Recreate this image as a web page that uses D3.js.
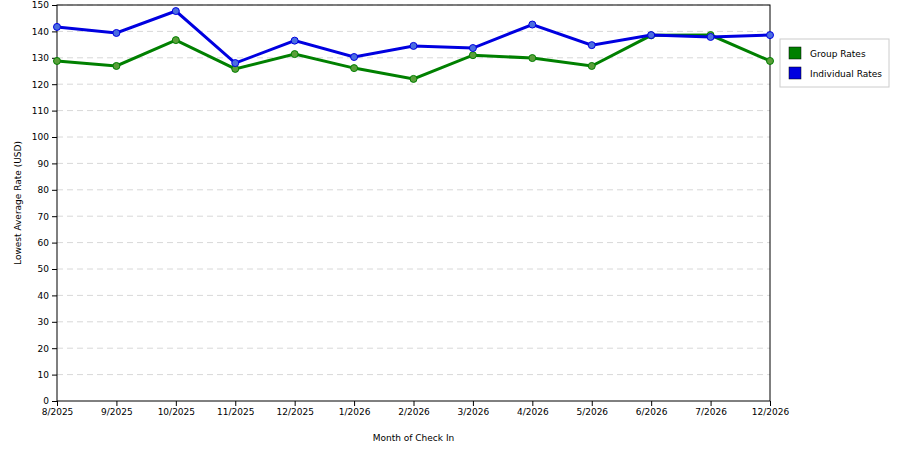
<!DOCTYPE html>
<html lang="en">
<head>
<meta charset="UTF-8">
<title>Lowest Average Rate</title>
<script src="https://d3js.org/d3.v7.min.js"></script>
<style>
  body { margin: 0; background: #fff; }
  text { font-family: "DejaVu Sans", sans-serif; }
</style>
</head>
<body>
<svg id="chart" width="900" height="450"></svg>
<script>
    const months = ["8/2025","9/2025","10/2025","11/2025","12/2025","1/2026","2/2026","3/2026","4/2026","5/2026","6/2026","7/2026","12/2026"];
    const groupRates = [128.8, 126.9, 136.7, 125.8, 131.4, 126.1, 122.0, 131.0, 129.9, 126.9, 138.5, 138.6, 128.8];
    const individualRates = [141.7, 139.4, 147.7, 128.0, 136.5, 130.3, 134.5, 133.7, 142.6, 134.8, 138.6, 137.9, 138.6];
    const yTicks = d3.range(0, 151, 10);

    const svg = d3.select("#chart");
    const margin = { top: 5, right: 130, bottom: 49, left: 57 };
    const width = 900 - margin.left - margin.right;
    const height = 450 - margin.top - margin.bottom;
    const g = svg.append("g").attr("transform", `translate(${margin.left},${margin.top})`);

    const x = d3.scalePoint().domain(months).range([0, width]);
    const y = d3.scaleLinear().domain([0, 150]).range([height, 0]);

    // grid
    g.selectAll(".grid").data(yTicks.slice(1)).enter().append("line")
        .attr("x1", 0).attr("x2", width)
        .attr("y1", d => y(d)).attr("y2", d => y(d))
        .attr("stroke", "#d8d8d8").attr("stroke-dasharray", "6,4");

    g.append("rect").attr("width", width).attr("height", height)
        .attr("fill", "none").attr("stroke", "#000");

    const yAxis = g.append("g").call(d3.axisLeft(y).tickValues(yTicks).tickSize(5).tickSizeOuter(0));
    const xAxis = g.append("g").attr("transform", `translate(0,${height})`)
        .call(d3.axisBottom(x).tickSize(5).tickSizeOuter(0));
    [xAxis, yAxis].forEach(a => {
        a.selectAll("text").style("font-size", "9px").attr("fill", "#000");
        a.select(".domain").remove();
    });

    const line = d3.line().x((d, i) => x(months[i])).y(d => y(d));
    const series = [
        { name: "Group Rates", values: groupRates, color: "#008000", dot: "#5a9e3a" },
        { name: "Individual Rates", values: individualRates, color: "#0000e0", dot: "#4a6de0" }
    ];
    series.forEach(s => {
        g.append("path").datum(s.values).attr("d", line)
            .attr("fill", "none").attr("stroke", s.color).attr("stroke-width", 3);
        g.selectAll(null).data(s.values).enter().append("circle")
            .attr("cx", (d, i) => x(months[i])).attr("cy", d => y(d)).attr("r", 3.5)
            .attr("fill", s.dot).attr("stroke", s.color).attr("stroke-width", 1);
    });

    // legend
    const lg = svg.append("g").attr("transform", "translate(780,39)");
    lg.append("rect").attr("width", 109).attr("height", 48).attr("fill", "#fff").attr("stroke", "#ccc");
    series.forEach((s, i) => {
        lg.append("rect").attr("x", 9).attr("y", 8 + i * 20).attr("width", 12).attr("height", 12)
            .attr("fill", s.color).attr("stroke", "#000").attr("stroke-width", 0.5);
        lg.append("text").attr("x", 30).attr("y", 18 + i * 20).style("font-size", "9px").text(s.name);
    });

    svg.append("text").attr("x", margin.left + width / 2).attr("y", 441)
        .attr("text-anchor", "middle").style("font-size", "9px").text("Month of Check In");
    svg.append("text").attr("transform", `translate(21,${margin.top + height / 2}) rotate(-90)`)
        .attr("text-anchor", "middle").style("font-size", "9px").text("Lowest Average Rate (USD)");
</script>
</body>
</html>
